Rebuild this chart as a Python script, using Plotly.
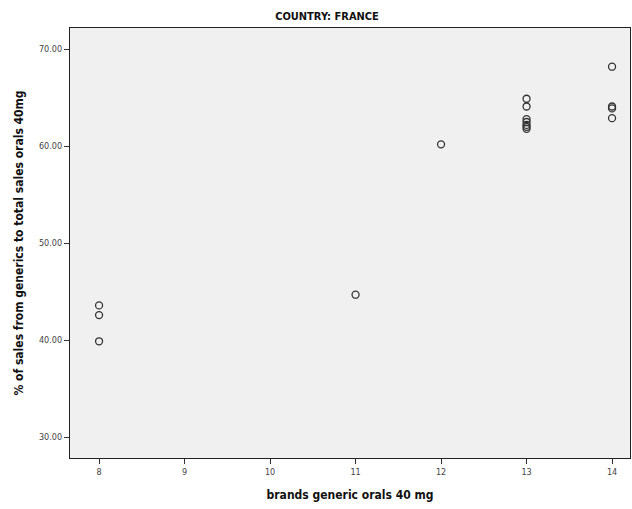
import plotly.graph_objects as go

brands = [8, 8, 8, 11, 12, 13, 13, 13, 13, 13, 13, 13, 14, 14, 14, 14]
share = [43.6, 42.6, 39.9, 44.7, 60.2, 64.9, 64.1, 62.8, 62.5, 62.2, 62.0, 61.8, 68.2, 64.1, 63.9, 62.9]

x_ticks = [8, 9, 10, 11, 12, 13, 14]
y_ticks = [30, 40, 50, 60, 70]

fig = go.Figure()
fig.add_trace(go.Scatter(
    x=brands, y=share, mode="markers",
    marker=dict(symbol="circle-open", size=7, color="#333333", line=dict(width=1.3)),
    showlegend=False,
))

fig.update_layout(
    width=632, height=509,
    margin=dict(l=70, r=2, t=28, b=51),
    paper_bgcolor="white", plot_bgcolor="#f0f0f0",
    title=dict(text="<b>COUNTRY: FRANCE</b>", x=(327 - 70) / 560, xref="paper", xanchor="center",
               y=1 - 16/509, yanchor="middle", yref="container",
               font=dict(family="DejaVu Sans Condensed, Liberation Sans Narrow, Arial", size=11, color="#111")),
    font=dict(family="DejaVu Sans", color="#222"),
)

fig.update_xaxes(
    range=[7.66, 14.21], tickvals=x_ticks, ticktext=[str(v) for v in x_ticks],
    showgrid=False, zeroline=False, showline=True, linecolor="#222", linewidth=1.2,
    mirror=True, ticks="outside", ticklen=5, tickcolor="#333", tickwidth=1,
    tickfont=dict(family="DejaVu Sans Condensed", size=9, color="#444"),
    title=dict(text="<b>brands generic orals 40 mg</b>", standoff=14,
               font=dict(family="DejaVu Sans Condensed", size=12, color="#111")),
)
fig.update_yaxes(
    range=[27.87, 72.19], tickvals=y_ticks, ticktext=[f"{v:.2f}" for v in y_ticks],
    showgrid=False, zeroline=False, showline=True, linecolor="#222", linewidth=1.2,
    mirror=True, ticks="outside", ticklen=5, tickcolor="#333", tickwidth=1,
    tickfont=dict(family="DejaVu Sans Condensed", size=9, color="#444"),
    title=dict(text="<b>% of sales from generics to total sales orals 40mg</b>", standoff=12,
               font=dict(family="DejaVu Sans Condensed", size=12, color="#111")),
)

fig.write_html("out.html")
